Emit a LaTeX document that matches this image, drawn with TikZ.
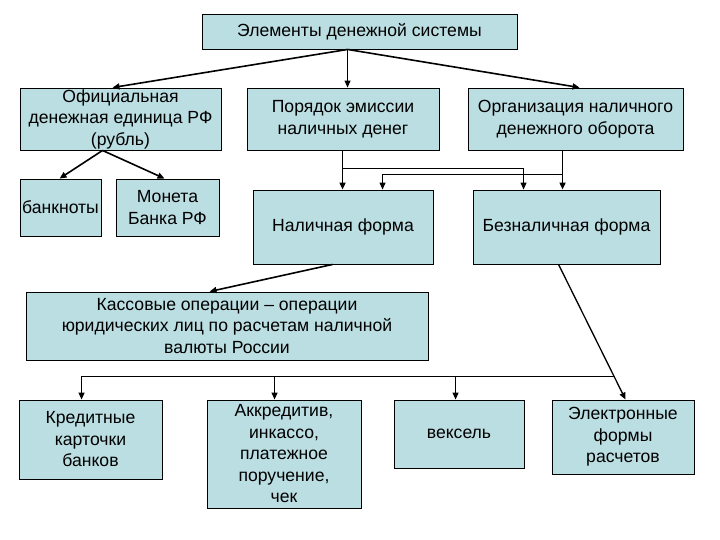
\documentclass[tikz,border=0pt]{standalone}
\usepackage{fontspec}
\setmainfont{Liberation Sans}
\usetikzlibrary{calc,arrows.meta}
\definecolor{boxc}{RGB}{187,222,226}
\tikzset{
  bx/.style={draw=black, line width=0.9pt, fill=boxc, align=center, inner sep=0pt,
    font=\fontsize{17.6}{21.5}\selectfont},
  arr/.style={draw=black, line width=1.6pt, -{Triangle[length=7pt,width=6pt]}},
  tarr/.style={draw=black, line width=1pt, -{Triangle[length=7pt,width=6pt]}},
  tline/.style={draw=black, line width=1pt}
}
\newcommand{\bxnode}[6]{\node[bx, minimum width=#4-#2, minimum height=#5-#3] (#1) at ({(#2+#4)/2},{(#3+#5)/2}) {#6};}
\begin{document}
\begin{tikzpicture}[x=1pt,y=-1pt]
\useasboundingbox (0,0) rectangle (720,540);
\fill[white] (0,0) rectangle (720,540);
\bxnode{top}{202}{14}{517}{49}{Элементы денежной системы}
\bxnode{ofic}{20}{88}{221}{150}{Официальная\\денежная единица РФ\\(рубль)}
\bxnode{por}{247}{88}{439}{150}{Порядок эмиссии\\наличных денег}
\bxnode{org}{468}{88}{683}{150}{Организация наличного\\денежного оборота}
\bxnode{bank}{20}{179}{101}{236}{\makebox[0pt]{банкноты}}
\bxnode{mon}{116}{179}{219}{236}{Монета\\Банка РФ}
\bxnode{nal}{253}{190}{433}{264}{Наличная форма}
\bxnode{bez}{473}{190}{660}{264}{Безналичная форма}
\bxnode{kas}{26}{292}{428}{360}{Кассовые операции – операции\\юридических лиц по расчетам наличной\\валюты России}
\bxnode{kred}{19}{400}{162}{479}{Кредитные\\карточки\\банков}
\bxnode{akk}{207}{400}{361}{508}{Аккредитив,\\инкассо,\\платежное\\поручение,\\чек}
\bxnode{veks}{394}{400}{524}{468}{вексель}
\bxnode{elec}{552}{400}{694}{474}{Электронные\\формы\\расчетов}

% top connectors
\coordinate (o) at ($(top.south west)+(146,0)$);
\draw[arr] (o) -- ($(ofic.north west)+(93,0)$);
\draw[tarr] (o) -- ($(por.north west)+(101,0)$);
\draw[arr] (o) -- ($(org.north west)+(112,0)$);

% ofic to bank / mon
\coordinate (of) at ($(ofic.south west)+(83,0)$);
\draw[arr] (of) -- ($(bank.north west)+(40,0)$);
\draw[arr] (of) -- ($(mon.north west)+(49,0)$);

% por / org to nal / bez
\coordinate (p1) at ($(por.south west)+(96,0)$);
\draw[arr] (p1) -- (p1 |- nal.north);
\coordinate (b1) at ($(p1)+(0,18)$);
\draw[tarr] (b1) -| ($(bez.north west)+(51,0)$);
\coordinate (q1) at ($(org.south west)+(95,0)$);
\draw[arr] (q1) -- (q1 |- bez.north);
\coordinate (b2) at ($(q1)+(0,24)$);
\draw[tarr] (b2) -| ($(nal.north west)+(130,0)$);

% nal to kas
\draw[arr] ($(nal.south west)+(80,0)$) -- ($(kas.north west)+(184,0)$);

% bez to elec and bus
\coordinate (s1) at ($(bez.south west)+(86,0)$);
\coordinate (e1) at ($(elec.north west)+(74,0)$);
\draw[arr, line width=1.3pt] (s1) -- (e1);
\coordinate (bp) at ($(s1)!0.83!(e1)$);
\coordinate (k1) at ($(kred.north west)+(63,0)$);
\coordinate (a1) at ($(akk.north west)+(68,0)$);
\coordinate (v1) at ($(veks.north west)+(62,0)$);
\draw[tarr, line width=1.2pt] (bp) -| (k1);
\draw[tarr, line width=1.2pt] (bp -| a1) -- (a1);
\draw[tarr] (bp -| v1) -- (v1);
\end{tikzpicture}
\end{document}
